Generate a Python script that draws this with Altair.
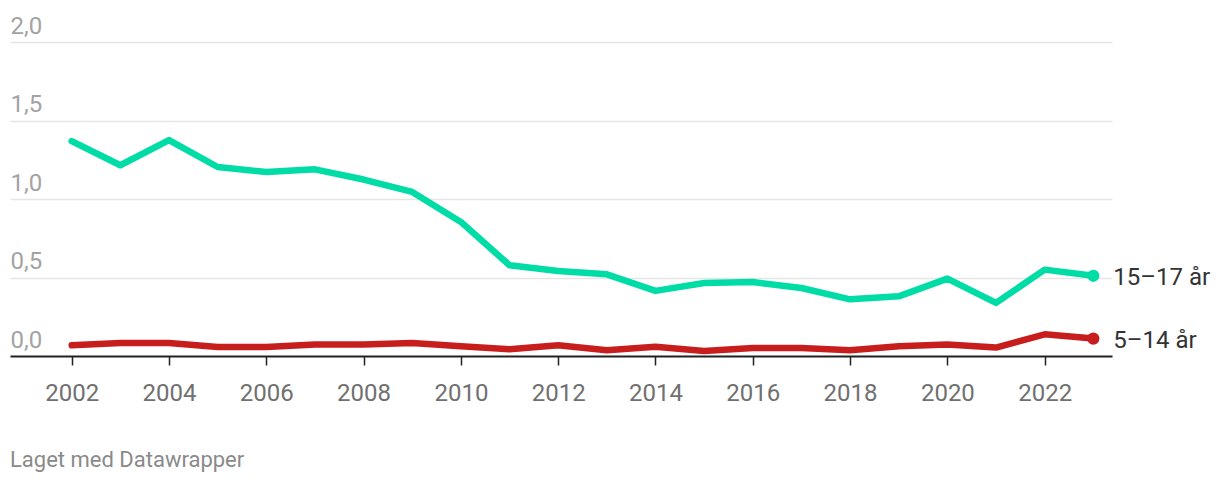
import altair as alt
import pandas as pd

years = list(range(2002, 2024))
age_15_17 = [1.369, 1.215, 1.375, 1.204, 1.172, 1.189, 1.124, 1.045, 0.854, 0.578,
             0.541, 0.520, 0.415, 0.465, 0.471, 0.433, 0.361, 0.380, 0.493, 0.338,
             0.550, 0.511]
age_5_14 = [0.068, 0.083, 0.083, 0.057, 0.057, 0.073, 0.073, 0.083, 0.062, 0.043,
            0.068, 0.036, 0.059, 0.032, 0.051, 0.051, 0.036, 0.062, 0.073, 0.054,
            0.138, 0.111]
series_names = ["15–17 år", "5–14 år"]
series_colors = ["#00dca6", "#c71e1d"]
x_ticks = list(range(2002, 2024, 2))
y_ticks = [0, 0.5, 1.0, 1.5, 2.0]
footer = ["Laget med Datawrapper"]

rows = []
for name, vals in zip(series_names, [age_15_17, age_5_14]):
    for yr, v in zip(years, vals):
        rows.append({"year": yr, "value": v, "series": name})
df = pd.DataFrame(rows)
last = df[df["year"] == years[-1]]

x_enc = alt.X("year:Q",
              scale=alt.Scale(domain=[2000.732, 2023.384], nice=False, zero=False),
              axis=alt.Axis(values=x_ticks, format="d", title=None, grid=False,
                            domain=True, domainColor="#222222", domainWidth=2,
                            ticks=True, tickColor="#222222", tickWidth=1.5, tickSize=9,
                            labelColor="#707070", labelFontSize=24, labelFont="Roboto",
                            labelBaseline="alphabetic", labelPadding=35,
                            labelFlush=False, labelOverlap=False))
y_enc = alt.Y("value:Q",
              scale=alt.Scale(domain=[0, 2], nice=False),
              axis=alt.Axis(values=y_ticks, title=None, grid=True,
                            gridColor="#e5e5e5", gridWidth=1.5,
                            domain=False, ticks=False, tickSize=0,
                            labelAlign="left", labelPadding=0, labelBaseline="alphabetic",
                            labelOffset=-9, labelColor="#a3a3a3", labelFontSize=24,
                            labelFont="Roboto", labelFlush=False,
                            labelExpr="replace(format(datum.value, '.1f'), '.', ',')"))
color_enc = alt.Color("series:N",
                      scale=alt.Scale(domain=series_names, range=series_colors),
                      legend=None)

lines = alt.Chart(df).mark_line(strokeWidth=6.5, strokeCap="round", strokeJoin="round").encode(
    x=x_enc, y=y_enc, color=color_enc, detail="series:N")

dots = alt.Chart(last).mark_circle(size=150, opacity=1).encode(
    x="year:Q", y="value:Q", color=color_enc)

labels = alt.Chart(last).mark_text(align="left", baseline="alphabetic", dx=20, dy=9,
                                   fontSize=24, font="Roboto", color="#333333").encode(
    x="year:Q", y="value:Q", text="series:N")

foot = alt.Chart(pd.DataFrame({"t": footer})).mark_text(
    align="left", baseline="alphabetic", fontSize=22, font="Roboto", color="#8a8a8a").encode(
    x=alt.value(0), y=alt.value(425), text="t:N")

chart = alt.layer(lines, dots, labels, foot).properties(
    width=1102, height=314,
    autosize=alt.AutoSizeParams(type="none"),
    padding={"left": 10, "top": 42, "right": 108, "bottom": 126},
    background="white",
).configure(font="Roboto").configure_view(stroke=None, strokeWidth=0)

chart.save("out.html", embed_options={"renderer": "svg", "actions": False})
